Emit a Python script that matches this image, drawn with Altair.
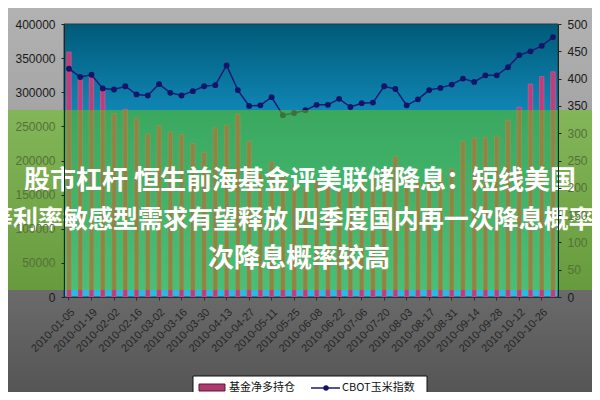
import altair as alt
import pandas as pd

dates = ["2010-01-05","2010-01-12","2010-01-19","2010-01-26","2010-02-02","2010-02-09","2010-02-16","2010-02-23",
         "2010-03-02","2010-03-09","2010-03-16","2010-03-23","2010-03-30","2010-04-06","2010-04-13","2010-04-20",
         "2010-04-27","2010-05-04","2010-05-11","2010-05-18","2010-05-25","2010-06-01","2010-06-08","2010-06-15",
         "2010-06-22","2010-06-29","2010-07-06","2010-07-13","2010-07-20","2010-07-27","2010-08-03","2010-08-10",
         "2010-08-17","2010-08-24","2010-08-31","2010-09-07","2010-09-14","2010-09-21","2010-09-28","2010-10-05",
         "2010-10-12","2010-10-19","2010-10-26","2010-11-02"]
fund_net_long = [359000, 322000, 326000, 308000, 269000, 275000, 262000, 239000, 251000, 242000,
                 238000, 225000, 212000, 248000, 252000, 268000, 228000, 180000, 198000, 176000,
                 168000, 160000, 170000, 163000, 155000, 160000, 172000, 178000, 186000, 206000,
                 178000, 168000, 172000, 181000, 188000, 228000, 233000, 234000, 236000, 259000,
                 278000, 312000, 323000, 330000]
corn_index = [418, 403, 407, 382, 380, 386, 371, 369, 390, 374,
              369, 377, 386, 388, 424, 379, 350, 351, 366, 333,
              337, 342, 352, 352, 363, 348, 355, 356, 386, 381,
              351, 362, 379, 383, 389, 400, 394, 406, 406, 421,
              443, 450, 460, 476]
left_ticks = [0, 50000, 100000, 150000, 200000, 250000, 300000, 350000, 400000]
right_ticks = [0, 50, 100, 150, 200, 250, 300, 350, 400, 450, 500]
series_names = ["基金净多持仓", "CBOT玉米指数"]
title_lines = ["股市杠杆 恒生前海基金评美联储降息：短线美国",
               "等利率敏感型需求有望释放 四季度国内再一次降息概率",
               "次降息概率较高"]

df = pd.DataFrame({"date": dates, "fund": fund_net_long, "corn": corn_index})

W, H = 494, 273
PL, PT, PR, PB = 56, 16, 34, 95

one = alt.Data(values=[{"k": 1}])

def grad(stops):
    return alt.LinearGradient(gradient="linear", x1=0, x2=0, y1=0, y2=1,
                              stops=[alt.GradientStop(color=c, offset=o) for o, c in stops])

bg = alt.Chart(one).mark_rect(color=grad([(0, "#b2b2b2"), (0.25, "#a6a6a6"), (0.72, "#6c6c6c"), (1, "#555555")])).encode(
    x=alt.value(-PL), x2=alt.value(W + PR), y=alt.value(-PT), y2=alt.value(H + PB))

plotbg = alt.Chart(one).mark_rect(
    color=grad([(0, "#005a78"), (0.32, "#1086b4"), (1, "#28bce8")]),
    stroke="#2b3a40", strokeWidth=1).encode(
    x=alt.value(0), x2=alt.value(W), y=alt.value(0), y2=alt.value(H))

xaxis = alt.Axis(values=dates[::2], labelAngle=-45, labelFontSize=11, labelColor="#262626",
                 labelFont="Liberation Sans", domainColor="#303030", tickColor="#303030",
                 tickSize=3, labelPadding=6, zindex=1, title=None)
xscale = alt.Scale(paddingInner=0.6, paddingOuter=0.244)

bars = alt.Chart(df).mark_bar(color="#c03c7a", stroke="#dc6498", strokeWidth=0.5).encode(
    x=alt.X("date:N", sort=None, title=None, scale=xscale, axis=xaxis),
    y=alt.Y("fund:Q", title=None, scale=alt.Scale(domain=[0, 400000], nice=False),
            axis=alt.Axis(orient="left", values=left_ticks, format="d", grid=False, zindex=1,
                          labelFontSize=12, labelFont="Liberation Sans", labelPadding=6,
                          labelColor=alt.condition("datum.value >= 50000 && datum.value <= 250000",
                                                   alt.value("#56703a"), alt.value("#1a1a1a")),
                          domainColor="#222222", tickColor="#222222", tickSize=3)))

line = alt.Chart(df).mark_line(color="#1a1a78", strokeWidth=1.5,
                               point=alt.OverlayMarkDef(color="#141468", size=34, filled=True)).encode(
    x=alt.X("date:N", sort=None, title=None, scale=xscale, axis=xaxis),
    y=alt.Y("corn:Q", title=None, scale=alt.Scale(domain=[0, 500], nice=False),
            axis=alt.Axis(orient="right", values=right_ticks, grid=False, zindex=1,
                          labelFontSize=12, labelFont="Liberation Sans", labelPadding=6,
                          labelColor=alt.condition("datum.value >= 50 && datum.value <= 300",
                                                   alt.value("#56703a"), alt.value("#1a1a1a")),
                          domainColor="#222222", tickColor="#222222", tickSize=3)))

band = alt.Chart(one).mark_rect(color="#64c814", opacity=0.52).encode(
    x=alt.value(-PL), x2=alt.value(W + PR), y=alt.value(86), y2=alt.value(266))

text_pos = [(236, 157, "center", 26), (-76, 196, "left", 25), (235, 235, "center", 26)]
texts = []
for t, (tx, ty, al, fs) in zip(title_lines, text_pos):
    texts.append(alt.Chart(alt.Data(values=[{"t": t}])).mark_text(
        font="Noto Sans CJK SC", fontWeight="bold", fontSize=fs, color="white",
        align=al, baseline="middle").encode(
        text="t:N", x=alt.value(tx), y=alt.value(ty)))

legend_box = alt.Chart(one).mark_rect(color="white", stroke="#111111", strokeWidth=1).encode(
    x=alt.value(129), x2=alt.value(363), y=alt.value(352), y2=alt.value(378))
legend_swatch = alt.Chart(one).mark_rect(color="#b03a70", stroke="#5a1838", strokeWidth=1).encode(
    x=alt.value(135), x2=alt.value(161), y=alt.value(360), y2=alt.value(367))
legend_line = alt.Chart(one).mark_rule(color="#1a1a78", strokeWidth=1.5).encode(
    x=alt.value(247), x2=alt.value(276), y=alt.value(364))
legend_dot = alt.Chart(one).mark_point(color="#141468", size=30, filled=True, opacity=1).encode(
    x=alt.value(262), y=alt.value(364))
legend_t1 = alt.Chart(alt.Data(values=[{"t": series_names[0]}])).mark_text(
    font="Noto Sans CJK SC", fontSize=11, color="#111111", align="left", baseline="middle").encode(
    text="t:N", x=alt.value(165), y=alt.value(364))
legend_t2 = alt.Chart(alt.Data(values=[{"t": series_names[1]}])).mark_text(
    font="Noto Sans CJK SC", fontSize=11, color="#111111", align="left", baseline="middle").encode(
    text="t:N", x=alt.value(278), y=alt.value(364))

chart = alt.layer(bg, plotbg, bars, line, band, *texts,
                  legend_box, legend_swatch, legend_line, legend_dot, legend_t1, legend_t2).resolve_scale(
    y="independent").properties(
    width=W, height=H,
    padding={"left": PL, "top": PT, "right": PR, "bottom": PB},
    autosize=alt.AutoSizeParams(type="none")).configure(background="#8a8a8a").configure_view(stroke=None)

chart.save("out.html", embed_options={"renderer": "svg", "actions": False})
